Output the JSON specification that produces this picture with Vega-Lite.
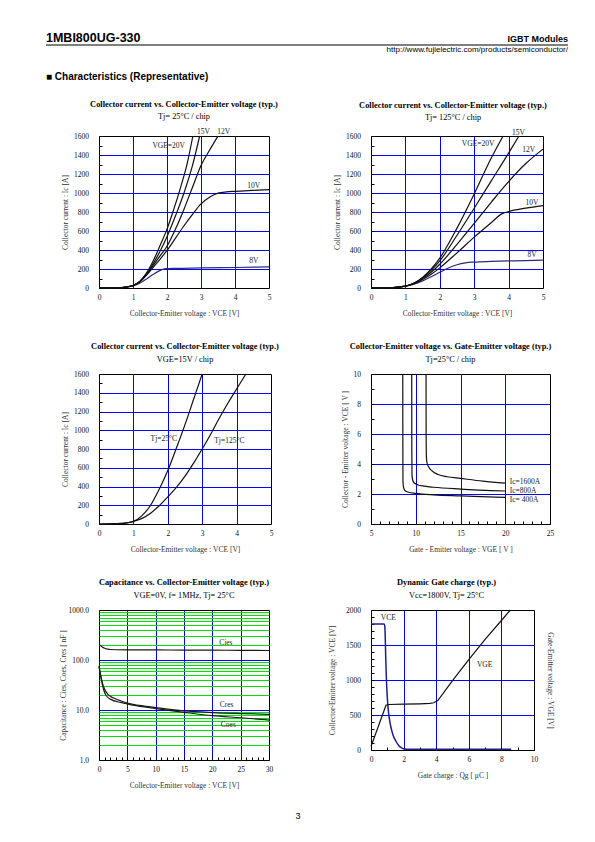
{
"$schema": "https://vega.github.io/schema/vega-lite/v6.json",
"background": "white",
"padding": {"left": 45, "top": 31, "right": 5, "bottom": 5},
"title": {"text": "3", "orient": "bottom", "anchor": "middle", "frame": "group", "dx": 199, "font": "Liberation Sans", "fontSize": 9, "fontWeight": "normal", "color": "#000", "offset": 22},
"columns": 2,
"bounds": "flush",
"spacing": {"row": 86, "column": 100},
"config": {
  "font": "Liberation Serif",
  "view": {"stroke": "#000", "strokeWidth": 1},
  "axis": {"grid": true, "gridColor": "#0000ff", "gridWidth": 1, "domain": false, "ticks": false, "labelFlush": false, "labelOverlap": false, "labelFont": "Liberation Serif", "labelFontSize": 7.5, "labelColor": "#111", "labelPadding": 10.5, "titleFont": "Liberation Serif", "titleFontSize": 7.5, "titleFontWeight": "normal", "titleColor": "#333", "titlePadding": 4},
  "axisX": {"labelPadding": 5, "titlePadding": 9},
  "title": {"font": "Liberation Serif", "fontSize": 8.4, "fontWeight": "bold", "color": "#000", "subtitleFont": "Liberation Serif", "subtitleFontSize": 8.3, "subtitleColor": "#000", "subtitlePadding": 4, "offset": 7, "frame": "group", "anchor": "middle"},
  "line": {"strokeWidth": 1.2},
  "text": {"font": "Liberation Serif", "fontSize": 7.5, "color": "#222"}
},
"concat": [
{
  "width": 172, "height": 5,
  "view": {"stroke": null},
  "title": {"text": "1MBI800UG-330", "subtitle": "■ Characteristics (Representative)", "anchor": "start", "frame": "group", "dx": -53, "offset": -37, "font": "Liberation Sans", "fontSize": 12.5, "fontWeight": "bold", "color": "#000", "subtitleFont": "Liberation Sans", "subtitleFontSize": 10, "subtitleFontWeight": "bold", "subtitleColor": "#000", "subtitlePadding": 27.5},
  "data": {"values": [{"k": "underline"}]},
  "mark": {"type": "rule", "color": "#000", "strokeWidth": 1},
  "encoding": {
    "x": {"datum": -53, "type": "quantitative", "scale": {"domain": [0, 172], "nice": false, "zero": false}, "axis": null},
    "x2": {"datum": 469},
    "y": {"datum": 1, "type": "quantitative", "scale": {"domain": [0, 1], "nice": false}, "axis": null}
  }
},
{
  "width": 179, "height": 5,
  "view": {"stroke": null},
  "title": {"text": "IGBT Modules", "subtitle": "http://www.fujielectric.com/products/semiconductor/", "anchor": "end", "frame": "group", "dx": 18, "offset": -10.5, "font": "Liberation Sans", "fontSize": 9, "fontWeight": "bold", "color": "#000", "subtitleFont": "Liberation Sans", "subtitleFontSize": 8, "subtitleColor": "#000", "subtitlePadding": 2},
  "data": {"values": [{"k": "blank"}]},
  "mark": {"type": "text", "text": ""}
},
{
  "width": 170, "height": 152,
  "title": {"text": "Collector current vs. Collector-Emitter voltage (typ.)", "subtitle": "Tj= 25°C / chip"},
  "encoding": {
    "x": {"field": "x", "type": "quantitative", "scale": {"domain": [0, 5]}, "axis": {"title": "Collector-Emitter voltage : VCE [V]", "values": [0,1,2,3,4,5], "format": "d", "gridOpacity": {"condition": {"test": "datum.value <= 0 || datum.value >= 5", "value": 0}, "value": 1}}},
    "y": {"field": "y", "type": "quantitative", "scale": {"domain": [0, 1600]}, "axis": {"title": "Collector current : Ic [A]", "values": [0,100,200,300,400,500,600,700,800,900,1000,1100,1200,1300,1400,1500,1600], "labelExpr": "datum.value % 200 == 0 ? datum.label : ''", "format": "d", "ticks": true, "tickSize": -3, "tickColor": "#000", "labelPadding": 13.5, "gridOpacity": {"condition": {"test": "datum.value % 200 == 0 && datum.value > 0 && datum.value < 1600", "value": 1}, "value": 0}}}
  },
  "layer": [
    {
      "data": {"values": [
        {"s":"8V","x":0,"y":0},{"s":"8V","x":0.5,"y":3},{"s":"8V","x":0.8,"y":10},{"s":"8V","x":1,"y":22},{"s":"8V","x":1.2,"y":50},{"s":"8V","x":1.4,"y":95},{"s":"8V","x":1.6,"y":145},{"s":"8V","x":1.8,"y":185},{"s":"8V","x":1.95,"y":203},{"s":"8V","x":2.2,"y":207},{"s":"8V","x":3,"y":211},{"s":"8V","x":4,"y":216},{"s":"8V","x":5,"y":222},
        {"s":"10V","x":0,"y":0},{"s":"10V","x":0.5,"y":3},{"s":"10V","x":0.8,"y":10},{"s":"10V","x":1,"y":25},{"s":"10V","x":1.2,"y":65},{"s":"10V","x":1.4,"y":135},{"s":"10V","x":1.6,"y":220},{"s":"10V","x":1.8,"y":305},{"s":"10V","x":2,"y":395},{"s":"10V","x":2.25,"y":525},{"s":"10V","x":2.5,"y":655},{"s":"10V","x":2.75,"y":775},{"s":"10V","x":3,"y":885},{"s":"10V","x":3.25,"y":955},{"s":"10V","x":3.5,"y":998},{"s":"10V","x":3.75,"y":1012},{"s":"10V","x":4,"y":1018},{"s":"10V","x":4.5,"y":1027},{"s":"10V","x":5,"y":1035},
        {"s":"12V","x":0,"y":0},{"s":"12V","x":0.5,"y":3},{"s":"12V","x":0.8,"y":10},{"s":"12V","x":1,"y":25},{"s":"12V","x":1.2,"y":66},{"s":"12V","x":1.4,"y":140},{"s":"12V","x":1.6,"y":240},{"s":"12V","x":1.8,"y":340},{"s":"12V","x":2,"y":440},{"s":"12V","x":2.25,"y":620},{"s":"12V","x":2.5,"y":830},{"s":"12V","x":2.75,"y":1060},{"s":"12V","x":3,"y":1290},{"s":"12V","x":3.25,"y":1450},{"s":"12V","x":3.5,"y":1600},
        {"s":"15V","x":0,"y":0},{"s":"15V","x":0.5,"y":3},{"s":"15V","x":0.8,"y":10},{"s":"15V","x":1,"y":26},{"s":"15V","x":1.2,"y":68},{"s":"15V","x":1.4,"y":150},{"s":"15V","x":1.6,"y":260},{"s":"15V","x":1.8,"y":390},{"s":"15V","x":2,"y":540},{"s":"15V","x":2.25,"y":760},{"s":"15V","x":2.5,"y":1000},{"s":"15V","x":2.75,"y":1290},{"s":"15V","x":2.96,"y":1600},
        {"s":"20V","x":0,"y":0},{"s":"20V","x":0.5,"y":3},{"s":"20V","x":0.8,"y":10},{"s":"20V","x":1,"y":26},{"s":"20V","x":1.2,"y":70},{"s":"20V","x":1.4,"y":160},{"s":"20V","x":1.6,"y":290},{"s":"20V","x":1.8,"y":450},{"s":"20V","x":2,"y":620},{"s":"20V","x":2.2,"y":830},{"s":"20V","x":2.4,"y":1060},{"s":"20V","x":2.6,"y":1320},{"s":"20V","x":2.76,"y":1600}
      ]},
      "mark": {"type": "line", "interpolate": "monotone"},
      "encoding": {
        "color": {"field": "s", "type": "nominal", "scale": {"domain": ["8V","10V","12V","15V","20V"], "range": ["#2b2b7a","#111111","#111111","#111111","#111111"]}, "legend": null}
      }
    },
    {
      "data": {"values": [
        {"t":"VGE=20V","x":1.57,"y":1496},{"t":"15V","x":2.88,"y":1645},{"t":"12V","x":3.48,"y":1645},{"t":"10V","x":4.36,"y":1070},{"t":"8V","x":4.42,"y":280}
      ]},
      "mark": {"type": "text", "align": "left", "baseline": "middle"},
      "encoding": {"text": {"field": "t"}}
    }
  ]
},
{
  "width": 172, "height": 152,
  "title": {"text": "Collector current vs. Collector-Emitter voltage (typ.)", "subtitle": "Tj= 125°C / chip", "dx": -4},
  "encoding": {
    "x": {"field": "x", "type": "quantitative", "scale": {"domain": [0, 5]}, "axis": {"title": "Collector-Emitter voltage : VCE [V]", "values": [0,1,2,3,4,5], "format": "d", "gridOpacity": {"condition": {"test": "datum.value <= 0 || datum.value >= 5", "value": 0}, "value": 1}}},
    "y": {"field": "y", "type": "quantitative", "scale": {"domain": [0, 1600]}, "axis": {"title": "Collector current : Ic [A]", "values": [0,100,200,300,400,500,600,700,800,900,1000,1100,1200,1300,1400,1500,1600], "labelExpr": "datum.value % 200 == 0 ? datum.label : ''", "format": "d", "ticks": true, "tickSize": -3, "tickColor": "#000", "labelPadding": 13.5, "gridOpacity": {"condition": {"test": "datum.value % 200 == 0 && datum.value > 0 && datum.value < 1600", "value": 1}, "value": 0}}}
  },
  "layer": [
    {
      "data": {"values": [
        {"s":"8V","x":0,"y":0},{"s":"8V","x":0.5,"y":3},{"s":"8V","x":1,"y":18},{"s":"8V","x":1.25,"y":40},{"s":"8V","x":1.5,"y":75},{"s":"8V","x":1.75,"y":118},{"s":"8V","x":2,"y":165},{"s":"8V","x":2.25,"y":210},{"s":"8V","x":2.5,"y":245},{"s":"8V","x":2.75,"y":265},{"s":"8V","x":3,"y":273},{"s":"8V","x":3.5,"y":280},{"s":"8V","x":4,"y":285},{"s":"8V","x":4.5,"y":289},{"s":"8V","x":5,"y":293},
        {"s":"10V","x":0,"y":0},{"s":"10V","x":0.5,"y":3},{"s":"10V","x":1,"y":20},{"s":"10V","x":1.25,"y":45},{"s":"10V","x":1.5,"y":90},{"s":"10V","x":1.75,"y":145},{"s":"10V","x":2,"y":212},{"s":"10V","x":2.5,"y":370},{"s":"10V","x":3,"y":535},{"s":"10V","x":3.5,"y":690},{"s":"10V","x":3.8,"y":780},{"s":"10V","x":4,"y":805},{"s":"10V","x":4.5,"y":840},{"s":"10V","x":5,"y":868},
        {"s":"12V","x":0,"y":0},{"s":"12V","x":0.5,"y":3},{"s":"12V","x":1,"y":20},{"s":"12V","x":1.25,"y":48},{"s":"12V","x":1.5,"y":100},{"s":"12V","x":1.75,"y":165},{"s":"12V","x":2,"y":250},{"s":"12V","x":2.5,"y":460},{"s":"12V","x":3,"y":680},{"s":"12V","x":3.5,"y":905},{"s":"12V","x":4,"y":1120},{"s":"12V","x":4.5,"y":1310},{"s":"12V","x":5,"y":1462},
        {"s":"15V","x":0,"y":0},{"s":"15V","x":0.5,"y":3},{"s":"15V","x":1,"y":20},{"s":"15V","x":1.25,"y":50},{"s":"15V","x":1.5,"y":108},{"s":"15V","x":1.75,"y":185},{"s":"15V","x":2,"y":285},{"s":"15V","x":2.5,"y":555},{"s":"15V","x":3,"y":840},{"s":"15V","x":3.5,"y":1130},{"s":"15V","x":4,"y":1420},{"s":"15V","x":4.3,"y":1600},
        {"s":"20V","x":0,"y":0},{"s":"20V","x":0.5,"y":3},{"s":"20V","x":1,"y":21},{"s":"20V","x":1.25,"y":52},{"s":"20V","x":1.5,"y":112},{"s":"20V","x":1.75,"y":200},{"s":"20V","x":2,"y":315},{"s":"20V","x":2.5,"y":630},{"s":"20V","x":3,"y":990},{"s":"20V","x":3.5,"y":1370},{"s":"20V","x":3.84,"y":1600}
      ]},
      "mark": {"type": "line", "interpolate": "monotone"},
      "encoding": {
        "color": {"field": "s", "type": "nominal", "scale": {"domain": ["8V","10V","12V","15V","20V"], "range": ["#2b2b7a","#111111","#111111","#111111","#111111"]}, "legend": null}
      }
    },
    {
      "data": {"values": [
        {"t":"VGE=20V","x":2.64,"y":1514},{"t":"15V","x":4.1,"y":1635},{"t":"12V","x":4.4,"y":1455},{"t":"10V","x":4.49,"y":900},{"t":"8V","x":4.55,"y":344}
      ]},
      "mark": {"type": "text", "align": "left", "baseline": "middle"},
      "encoding": {"text": {"field": "t"}}
    }
  ]
},
{
  "width": 172, "height": 150,
  "title": {"text": "Collector current vs. Collector-Emitter voltage (typ.)", "subtitle": "VGE=15V / chip"},
  "encoding": {
    "x": {"field": "x", "type": "quantitative", "scale": {"domain": [0, 5]}, "axis": {"title": "Collector-Emitter voltage : VCE [V]", "values": [0,1,2,3,4,5], "format": "d", "gridOpacity": {"condition": {"test": "datum.value <= 0 || datum.value >= 5", "value": 0}, "value": 1}}},
    "y": {"field": "y", "type": "quantitative", "scale": {"domain": [0, 1600]}, "axis": {"title": "Collector current : Ic [A]", "values": [0,100,200,300,400,500,600,700,800,900,1000,1100,1200,1300,1400,1500,1600], "labelExpr": "datum.value % 200 == 0 ? datum.label : ''", "format": "d", "ticks": true, "tickSize": -3, "tickColor": "#000", "labelPadding": 13.5, "gridOpacity": {"condition": {"test": "datum.value % 200 == 0 && datum.value > 0 && datum.value < 1600", "value": 1}, "value": 0}}}
  },
  "layer": [
    {
      "data": {"values": [
        {"s":"25","x":0,"y":0},{"s":"25","x":0.5,"y":4},{"s":"25","x":0.8,"y":12},{"s":"25","x":1,"y":28},{"s":"25","x":1.25,"y":90},{"s":"25","x":1.5,"y":200},{"s":"25","x":1.75,"y":370},{"s":"25","x":2,"y":570},{"s":"25","x":2.25,"y":810},{"s":"25","x":2.5,"y":1060},{"s":"25","x":2.75,"y":1330},{"s":"25","x":3,"y":1600},
        {"s":"125","x":0,"y":0},{"s":"125","x":0.5,"y":4},{"s":"125","x":0.8,"y":12},{"s":"125","x":1,"y":28},{"s":"125","x":1.25,"y":60},{"s":"125","x":1.5,"y":115},{"s":"125","x":1.75,"y":195},{"s":"125","x":2,"y":290},{"s":"125","x":2.25,"y":390},{"s":"125","x":2.5,"y":510},{"s":"125","x":2.75,"y":650},{"s":"125","x":3,"y":800},{"s":"125","x":3.25,"y":960},{"s":"125","x":3.5,"y":1130},{"s":"125","x":3.75,"y":1290},{"s":"125","x":4,"y":1440},{"s":"125","x":4.27,"y":1600}
      ]},
      "mark": {"type": "line", "interpolate": "monotone", "color": "#111111"},
      "encoding": {"detail": {"field": "s", "type": "nominal"}}
    },
    {
      "data": {"values": [
        {"t":"Tj=25°C","x":1.5,"y":903},{"t":"Tj=125°C","x":3.35,"y":889}
      ]},
      "mark": {"type": "text", "align": "left", "baseline": "middle"},
      "encoding": {"text": {"field": "t"}}
    }
  ]
},
{
  "width": 179, "height": 150,
  "title": {"text": "Collector-Emitter voltage  vs. Gate-Emitter voltage (typ.)", "subtitle": "Tj=25°C / chip", "dx": -10},
  "encoding": {
    "x": {"field": "x", "type": "quantitative", "scale": {"domain": [5, 25]}, "axis": {"title": "Gate - Emitter voltage  :  VGE  [ V ]", "values": [5,6,7,8,9,10,11,12,13,14,15,16,17,18,19,20,21,22,23,24,25], "labelExpr": "datum.value % 5 == 0 ? datum.label : ''", "format": "d", "ticks": true, "tickSize": -3, "tickColor": "#000", "labelPadding": 8, "gridOpacity": {"condition": {"test": "datum.value % 5 == 0 && datum.value > 5 && datum.value < 25", "value": 1}, "value": 0}}},
    "y": {"field": "y", "type": "quantitative", "scale": {"domain": [0, 10]}, "axis": {"title": "Collector - Emitter voltage  :  VCE  [ V ]", "values": [0,0.5,1,1.5,2,2.5,3,3.5,4,4.5,5,5.5,6,6.5,7,7.5,8,8.5,9,9.5,10], "labelExpr": "datum.value % 2 == 0 ? datum.label : ''", "format": "d", "ticks": true, "tickSize": -3, "tickColor": "#000", "labelPadding": 13.5, "gridOpacity": {"condition": {"test": "datum.value % 2 == 0 && datum.value > 0 && datum.value < 10", "value": 1}, "value": 0}}}
  },
  "layer": [
    {
      "data": {"values": [
        {"s":"400A","x":8.55,"y":10},{"s":"400A","x":8.56,"y":5},{"s":"400A","x":8.57,"y":3},{"s":"400A","x":8.6,"y":2.6},{"s":"400A","x":8.68,"y":2.35},{"s":"400A","x":8.85,"y":2.2},{"s":"400A","x":9.2,"y":2.12},{"s":"400A","x":10,"y":2.04},{"s":"400A","x":12,"y":1.94},{"s":"400A","x":15,"y":1.87},{"s":"400A","x":20,"y":1.77},
        {"s":"800A","x":9.55,"y":10},{"s":"800A","x":9.56,"y":5},{"s":"800A","x":9.58,"y":3.3},{"s":"800A","x":9.65,"y":2.95},{"s":"800A","x":9.8,"y":2.75},{"s":"800A","x":10.2,"y":2.62},{"s":"800A","x":11,"y":2.52},{"s":"800A","x":12,"y":2.45},{"s":"800A","x":15,"y":2.33},{"s":"800A","x":20,"y":2.2},
        {"s":"1600A","x":11.15,"y":10},{"s":"1600A","x":11.16,"y":6},{"s":"1600A","x":11.18,"y":4.6},{"s":"1600A","x":11.25,"y":4.1},{"s":"1600A","x":11.45,"y":3.8},{"s":"1600A","x":11.8,"y":3.55},{"s":"1600A","x":12.5,"y":3.3},{"s":"1600A","x":13.5,"y":3.15},{"s":"1600A","x":15,"y":3.04},{"s":"1600A","x":17.5,"y":2.86},{"s":"1600A","x":20,"y":2.72}
      ]},
      "mark": {"type": "line", "interpolate": "monotone", "color": "#111111"},
      "encoding": {"detail": {"field": "s", "type": "nominal"}}
    },
    {
      "data": {"values": [
        {"t":"Ic=1600A","x":20.5,"y":2.78},{"t":"Ic=800A","x":20.5,"y":2.2},{"t":"Ic= 400A","x":20.5,"y":1.6}
      ]},
      "mark": {"type": "text", "align": "left", "baseline": "middle"},
      "encoding": {"text": {"field": "t"}}
    }
  ]
},
{
  "width": 170, "height": 150,
  "title": {"text": "Capacitance  vs.  Collector-Emitter voltage  (typ.)", "subtitle": "VGE=0V, f= 1MHz, Tj= 25°C"},
  "encoding": {
    "x": {"field": "x", "type": "quantitative", "scale": {"domain": [0, 30]}, "axis": {"title": "Collector-Emitter voltage : VCE [V]", "values": [0,1,2,3,4,5,6,7,8,9,10,11,12,13,14,15,16,17,18,19,20,21,22,23,24,25,26,27,28,29,30], "labelExpr": "datum.value % 5 == 0 ? datum.label : ''", "format": "d", "ticks": true, "tickSize": -3, "tickColor": "#000", "labelPadding": 8, "gridOpacity": {"condition": {"test": "datum.value % 5 == 0 && datum.value > 0 && datum.value < 30", "value": 1}, "value": 0}}},
    "y": {"field": "y", "type": "quantitative", "scale": {"type": "log", "domain": [1, 1000]}, "axis": {"title": "Capacitance  :  Cies, Coes, Cres  [ nF ]", "titlePadding": 0, "values": [1,2,3,4,5,6,7,8,9,10,20,30,40,50,60,70,80,90,100,200,300,400,500,600,700,800,900,1000], "labelExpr": "datum.value == 1 || datum.value == 10 || datum.value == 100 || datum.value == 1000 ? format(datum.value, '.1f') : ''", "gridColor": {"condition": {"test": "datum.value == 10 || datum.value == 100", "value": "#0000ff"}, "value": "#00e000"}, "gridOpacity": {"condition": {"test": "datum.value <= 1 || datum.value >= 1000", "value": 0}, "value": 1}}}
  },
  "layer": [
    {
      "data": {"values": [
        {"s":"Cies","x":0,"y":205},{"s":"Cies","x":0.5,"y":185},{"s":"Cies","x":1,"y":172},{"s":"Cies","x":1.5,"y":165},{"s":"Cies","x":2,"y":162},{"s":"Cies","x":5,"y":160},{"s":"Cies","x":10,"y":159},{"s":"Cies","x":15,"y":158},{"s":"Cies","x":20,"y":157},{"s":"Cies","x":25,"y":156},{"s":"Cies","x":30,"y":155},
        {"s":"Cres","x":0,"y":75},{"s":"Cres","x":0.3,"y":50},{"s":"Cres","x":0.6,"y":35},{"s":"Cres","x":1,"y":26},{"s":"Cres","x":1.5,"y":21},{"s":"Cres","x":2.5,"y":17.5},{"s":"Cres","x":4,"y":15},{"s":"Cres","x":6,"y":13},{"s":"Cres","x":8,"y":12},{"s":"Cres","x":10,"y":11.2},{"s":"Cres","x":15,"y":9.6},{"s":"Cres","x":20,"y":8.9},{"s":"Cres","x":25,"y":8.5},{"s":"Cres","x":30,"y":8.2},
        {"s":"Coes","x":0,"y":75},{"s":"Coes","x":0.2,"y":55},{"s":"Coes","x":0.5,"y":36},{"s":"Coes","x":0.8,"y":26},{"s":"Coes","x":1.2,"y":20},{"s":"Coes","x":2,"y":16.5},{"s":"Coes","x":4,"y":14},{"s":"Coes","x":6,"y":12.5},{"s":"Coes","x":10,"y":10.7},{"s":"Coes","x":15,"y":9},{"s":"Coes","x":20,"y":7.7},{"s":"Coes","x":25,"y":7},{"s":"Coes","x":30,"y":6.3}
      ]},
      "mark": {"type": "line", "interpolate": "monotone", "color": "#1a1a1a"},
      "encoding": {"detail": {"field": "s", "type": "nominal"}}
    },
    {
      "data": {"values": [
        {"t":"Cies","x":21.2,"y":215},{"t":"Cres","x":21.3,"y":12.5},{"t":"Coes","x":21.5,"y":4.9}
      ]},
      "mark": {"type": "text", "align": "left", "baseline": "middle"},
      "encoding": {"text": {"field": "t"}}
    }
  ]
},
{
  "width": 163, "height": 140,
  "title": {"text": "Dynamic Gate charge  (typ.)", "subtitle": "Vcc=1800V, Tj= 25°C", "dx": -6},
  "resolve": {"scale": {"y": "independent"}, "axis": {"y": "independent"}},
  "encoding": {
    "x": {"field": "x", "type": "quantitative", "scale": {"domain": [0, 10]}, "axis": {"title": "Gate charge  :  Qg  [ μC ]", "values": [0,0.5,1,1.5,2,2.5,3,3.5,4,4.5,5,5.5,6,6.5,7,7.5,8,8.5,9,9.5,10], "labelExpr": "datum.value % 2 == 0 ? datum.label : ''", "format": "d", "ticks": true, "tickSize": -3, "tickColor": "#000", "labelPadding": 8, "gridOpacity": {"condition": {"test": "datum.value % 2 == 0 && datum.value > 0 && datum.value < 10", "value": 1}, "value": 0}}}
  },
  "layer": [
    {
      "data": {"values": [
        {"s":"VCE","x":0,"y":1800},{"s":"VCE","x":0.8,"y":1800},{"s":"VCE","x":0.84,"y":1780},{"s":"VCE","x":0.87,"y":1650},{"s":"VCE","x":0.9,"y":1350},{"s":"VCE","x":0.94,"y":1050},{"s":"VCE","x":1.0,"y":750},{"s":"VCE","x":1.08,"y":530},{"s":"VCE","x":1.2,"y":350},{"s":"VCE","x":1.35,"y":215},{"s":"VCE","x":1.53,"y":125},{"s":"VCE","x":1.7,"y":65},{"s":"VCE","x":1.85,"y":35},{"s":"VCE","x":2,"y":18},{"s":"VCE","x":2.2,"y":11},{"s":"VCE","x":3,"y":10},{"s":"VCE","x":5,"y":10},{"s":"VCE","x":8.6,"y":10}
      ]},
      "mark": {"type": "line", "interpolate": "monotone", "color": "#1f1f8a", "strokeWidth": 1.5},
      "encoding": {
        "y": {"field": "y", "type": "quantitative", "scale": {"domain": [0, 2000]}, "axis": {"title": "Collector-Emitter voltage : VCE [V]", "titlePadding": 9, "values": [0,100,200,300,400,500,600,700,800,900,1000,1100,1200,1300,1400,1500,1600,1700,1800,1900,2000], "labelExpr": "datum.value % 500 == 0 ? datum.label : ''", "format": "d", "ticks": true, "tickSize": -3, "tickColor": "#000", "labelPadding": 13.5, "gridOpacity": {"condition": {"test": "datum.value % 500 == 0 && datum.value > 0 && datum.value < 2000", "value": 1}, "value": 0}}}
      }
    },
    {
      "data": {"values": [
        {"s":"VGE","x":0,"y":50},{"s":"VGE","x":0.92,"y":640},{"s":"VGE","x":1.1,"y":650},{"s":"VGE","x":2,"y":655},{"s":"VGE","x":3,"y":660},{"s":"VGE","x":3.6,"y":665},{"s":"VGE","x":3.85,"y":675},{"s":"VGE","x":4.1,"y":705},{"s":"VGE","x":5,"y":990},{"s":"VGE","x":6,"y":1290},{"s":"VGE","x":7,"y":1580},{"s":"VGE","x":8,"y":1850},{"s":"VGE","x":8.55,"y":2000}
      ]},
      "mark": {"type": "line", "color": "#111111"},
      "encoding": {
        "y": {"field": "y", "type": "quantitative", "scale": {"domain": [0, 2000]}, "axis": {"orient": "right", "title": "Gate-Emitter voltage : VGE [V]", "labels": false, "grid": false, "titlePadding": 11}}
      }
    },
    {
      "data": {"values": [
        {"t":"VCE","x":0.6,"y":1880},{"t":"VGE","x":6.5,"y":1210}
      ]},
      "mark": {"type": "text", "align": "left", "baseline": "middle"},
      "encoding": {
        "y": {"field": "y", "type": "quantitative", "scale": {"domain": [0, 2000]}, "axis": null},
        "text": {"field": "t"}
      }
    }
  ]
}
]
}
